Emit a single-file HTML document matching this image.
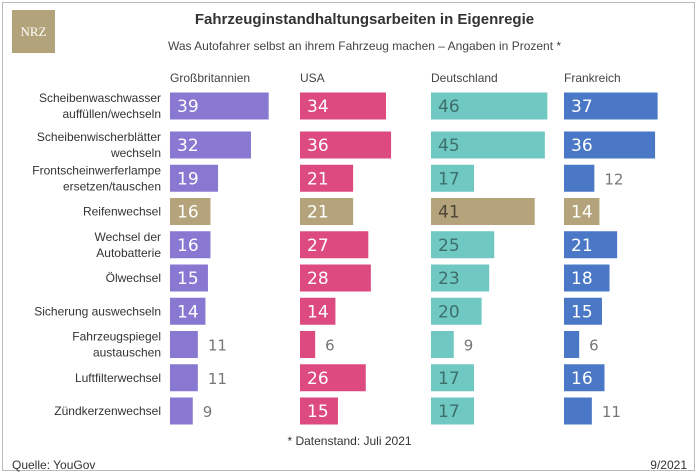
<!DOCTYPE html>
<html><head><meta charset="utf-8"><style>
body{margin:0;background:#fff;font-family:"Liberation Sans",sans-serif;}
#frame{position:absolute;left:2px;top:2px;width:693px;height:469px;border:1px solid #bbb;box-sizing:border-box;}
.t{position:absolute;white-space:nowrap;}
</style></head><body>
<div id="frame"></div>
<div style="position:absolute;left:12px;top:10px;width:43px;height:43px;background:#b3a37a;color:#fff;font-family:'Liberation Serif',serif;font-size:13px;line-height:43px;text-align:center;">NRZ</div>
<div class="t" style="left:0;width:699px;text-align:center;top:11px;font-size:15px;font-weight:bold;color:#333;padding-left:30px;box-sizing:border-box;">Fahrzeuginstandhaltungsarbeiten in Eigenregie</div>
<div class="t" style="left:0;width:699px;text-align:center;top:39px;font-size:12px;color:#444;padding-left:30px;box-sizing:border-box;">Was Autofahrer selbst an ihrem Fahrzeug machen – Angaben in Prozent *</div>
<div class="t" style="left:0;width:699px;text-align:center;top:434px;font-size:12px;color:#333;">* Datenstand: Juli 2021</div>
<div class="t" style="left:12px;top:458px;font-size:12px;color:#333;">Quelle: YouGov</div>
<div class="t" style="right:12px;top:458px;font-size:12px;color:#333;">9/2021</div>
<svg id="c" width="699" height="475" style="position:absolute;left:0;top:0"></svg>
<script>
const categories=["Scheibenwaschwasser\nauffüllen/wechseln","Scheibenwischerblätter\nwechseln","Frontscheinwerferlampe\nersetzen/tauschen","Reifenwechsel","Wechsel der\nAutobatterie","Ölwechsel","Sicherung auswechseln","Fahrzeugspiegel\naustauschen","Luftfilterwechsel","Zündkerzenwechsel"];
const countries=["Großbritannien","USA","Deutschland","Frankreich"];
const gb=[39,32,19,16,16,15,14,11,11,9];
const usa=[34,36,21,21,27,28,14,6,26,15];
const de=[46,45,17,41,25,23,20,9,17,17];
const fr=[37,36,12,14,21,18,15,6,16,11];
const series=[gb,usa,de,fr];
const colors=["#8878d2","#dd4a80","#6fc8c2","#4a78c6"];
const labelColors=["#fff","#fff","#3e6f6b","#fff"];
const highlightRow=3, highlightColor="#b5a47b";
const colX=[170,300,431,564];
const scale=2.53, barH=27;
function rowY(i){return i===0?106:145+(i-1)*33.25;}
function xLen(v){return v*scale;}
const svg=document.getElementById('c');
const NS="http://www.w3.org/2000/svg";
function txt(x,y,s,attrs){const t=document.createElementNS(NS,'text');t.setAttribute('x',x);t.setAttribute('y',y);for(const k in attrs)t.setAttribute(k,attrs[k]);t.textContent=s;svg.appendChild(t);return t;}
countries.forEach((c,j)=>{
  const t=txt(colX[j],82,c,{'font-size':12,fill:'#444','font-family':'Liberation Sans'});
  
  
});
categories.forEach((cat,i)=>{
  const cy=rowY(i);
  const lines=cat.split("\n");
  lines.forEach((ln,k)=>{
    const y=cy+4+(k-(lines.length-1)/2)*16;
    const t=txt(161,y,ln,{'font-size':12,fill:'#333','text-anchor':'end','font-family':'Liberation Sans'});
    
    
  });
  series.forEach((s,j)=>{
    const v=s[i];
    const r=document.createElementNS(NS,'rect');
    r.setAttribute('x',colX[j]);r.setAttribute('y',cy-barH/2);
    r.setAttribute('width',xLen(v));r.setAttribute('height',barH);
    r.setAttribute('fill',i===highlightRow?highlightColor:colors[j]);
    
    
    svg.appendChild(r);
    const inside=v>=13;
    let fill=inside?(i===highlightRow?(j===2?'#4a4536':'#fff'):labelColors[j]):'#777';
    const t=txt(inside?colX[j]+7:colX[j]+xLen(v)+10,cy+6,String(v),{'font-size':inside?17:15,fill:fill,'font-family':'DejaVu Sans'});
    
    
  });
});
</script>
</body></html>
